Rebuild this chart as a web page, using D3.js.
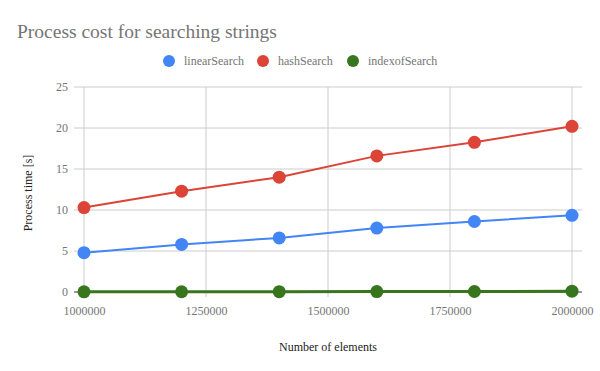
<!DOCTYPE html>
<html>
<head>
<meta charset="utf-8">
<script src="https://cdn.jsdelivr.net/npm/d3@7"></script>
<style>
  body { margin: 0; background: #fff; }
  svg { font-family: 'Liberation Serif', 'Times New Roman', serif; }
</style>
</head>
<body>
<svg id="chart"></svg>
<script>
let sizes = [1000000, 1200000, 1400000, 1600000, 1800000, 2000000]
let linearSearch = [4.8, 5.8, 6.6, 7.8, 8.6, 9.35]
let hashSearch = [10.3, 12.3, 14.0, 16.6, 18.25, 20.2]
let indexofSearch = [0.02, 0.03, 0.04, 0.05, 0.06, 0.1]
let seriesNames = ['linearSearch', 'hashSearch', 'indexofSearch']
let seriesColors = ['#4285f4', '#db4437', '#38761d']
let xTicks = [1000000, 1250000, 1500000, 1750000, 2000000]
let yTicks = [0, 5, 10, 15, 20, 25]

let width = 600
let height = 371
let plotLeft = 74
let plotRight = 582
let plotTop = 87
let plotBottom = 292
let pad = 10

let svg = d3.select('#chart').attr('width', width).attr('height', height)

let xScale = d3.scaleLinear()
    .domain([d3.min(sizes), d3.max(sizes)])
    .range([plotLeft + pad, plotRight - pad])

let yScale = d3.scaleLinear()
    .domain([0, 25])
    .range([plotBottom, plotTop])

// gridlines
svg.append('g').selectAll('line')
    .data(yTicks.filter(t => t !== 0))
    .enter().append('line')
    .attr('x1', plotLeft).attr('x2', plotRight)
    .attr('y1', d => yScale(d)).attr('y2', d => yScale(d))
    .attr('stroke', '#cccccc').attr('stroke-width', 1)

svg.append('g').selectAll('line')
    .data(xTicks)
    .enter().append('line')
    .attr('x1', d => xScale(d)).attr('x2', d => xScale(d))
    .attr('y1', plotTop).attr('y2', plotBottom + 5)
    .attr('stroke', '#cccccc').attr('stroke-width', 1)

// tick labels via d3 axes
let xAxis = d3.axisBottom(xScale).tickValues(xTicks).tickFormat(d3.format('d')).tickSize(0).tickPadding(14)
let yAxis = d3.axisLeft(yScale).tickValues(yTicks).tickFormat(d3.format('d')).tickSize(0).tickPadding(6)

let gx = svg.append('g').attr('transform', 'translate(0,' + plotBottom + ')').call(xAxis)
let gy = svg.append('g').attr('transform', 'translate(' + plotLeft + ',0)').call(yAxis)
gx.select('.domain').remove()
gy.select('.domain').remove()
svg.selectAll('.tick text')
    .attr('font-family', "'Liberation Serif', serif")
    .attr('font-size', 12)
    .attr('fill', '#757575')

// baseline
svg.append('line')
    .attr('x1', plotLeft).attr('x2', plotRight)
    .attr('y1', yScale(0)).attr('y2', yScale(0))
    .attr('stroke', '#333333').attr('stroke-width', 1)

let allSeries = [linearSearch, hashSearch, indexofSearch]

let line = d3.line()
    .x((d, i) => xScale(sizes[i]))
    .y(d => yScale(d))

allSeries.forEach((values, s) => {
    svg.append('path')
        .datum(values)
        .attr('d', line)
        .attr('fill', 'none')
        .attr('stroke', seriesColors[s])
        .attr('stroke-width', s === 2 ? 3 : 2)

    svg.append('g').selectAll('circle')
        .data(values)
        .enter().append('circle')
        .attr('cx', (d, i) => xScale(sizes[i]))
        .attr('cy', d => yScale(d))
        .attr('r', 6.5)
        .attr('fill', seriesColors[s])
})

// title
svg.append('text')
    .attr('x', 17).attr('y', 38)
    .attr('font-size', 19.5)
    .attr('fill', '#757575')
    .text('Process cost for searching strings')

// legend
let legendX = [169, 263, 353]
seriesNames.forEach((name, s) => {
    svg.append('circle')
        .attr('cx', legendX[s]).attr('cy', 61)
        .attr('r', 6)
        .attr('fill', seriesColors[s])
    svg.append('text')
        .attr('x', legendX[s] + 15).attr('y', 65)
        .attr('font-size', 12)
        .attr('fill', '#757575')
        .text(name)
})

// axis titles
svg.append('text')
    .attr('x', 328).attr('y', 351)
    .attr('text-anchor', 'middle')
    .attr('font-size', 12)
    .attr('fill', '#222222')
    .text('Number of elements')

svg.append('text')
    .attr('transform', 'translate(32,193) rotate(-90)')
    .attr('text-anchor', 'middle')
    .attr('font-size', 12)
    .attr('fill', '#222222')
    .text('Process time [s]')
</script>
</body>
</html>
